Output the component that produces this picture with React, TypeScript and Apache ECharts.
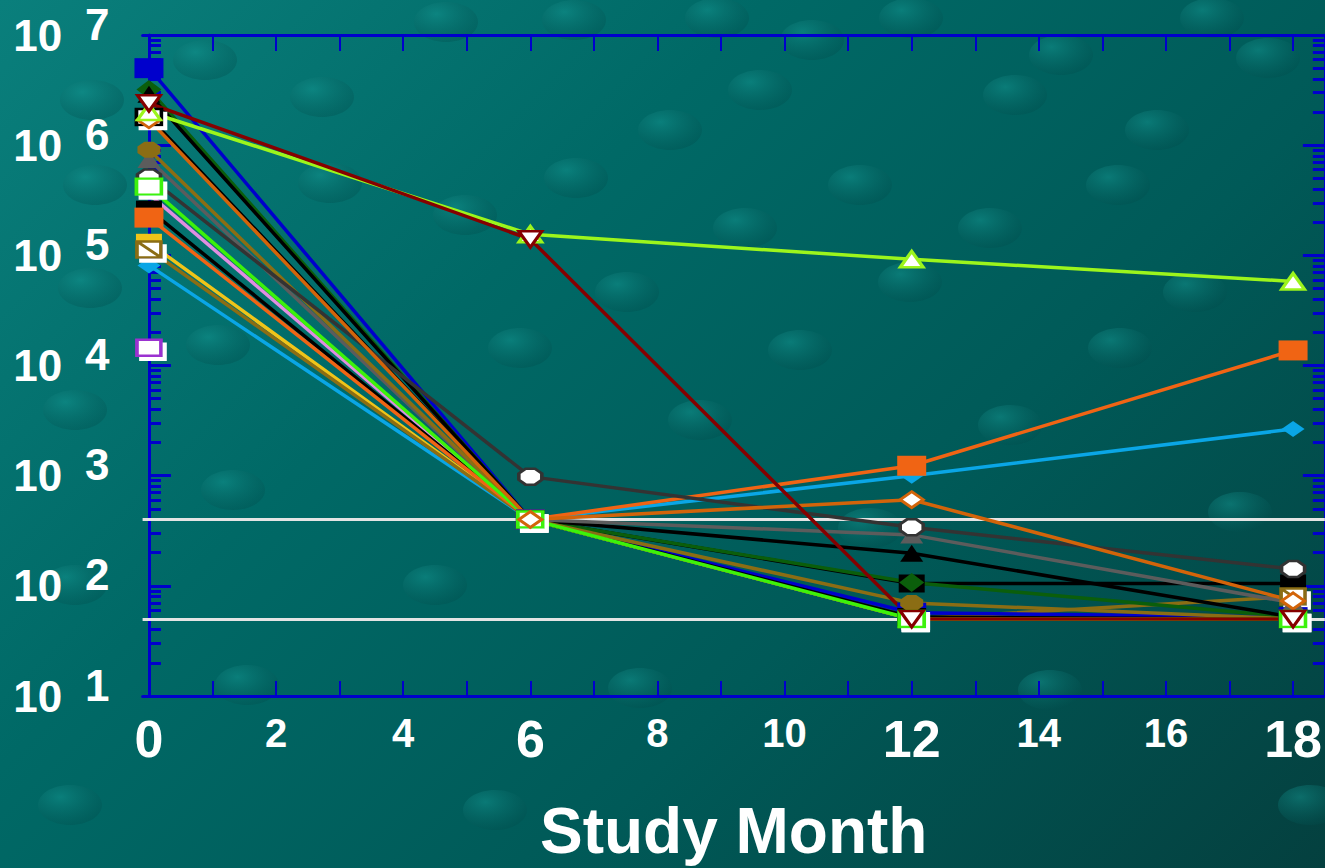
import React, { useEffect, useRef } from 'react';
import * as echarts from 'echarts';

// Study months at which viral load was measured
const months = [0, 6, 12, 18];

// Axis ticks and labels
const monthTicks = [0, 1, 2, 3, 4, 5, 6, 7, 8, 9, 10, 11, 12, 13, 14, 15, 16, 17, 18];
const monthLabels = [0, 2, 4, 6, 8, 10, 12, 14, 16, 18];
const majorMonths = [0, 6, 12, 18];
const decades = [10, 100, 1000, 10000, 100000, 1000000, 10000000];
const minorSteps = [2, 3, 4, 5, 6, 7, 8, 9];

// Detection limits (copies/mL)
const thresholds = [400, 50];

// Viral load per patient at months 0, 6, 12, 18
const pinkLine = [360000, 400, null, null];
const blackSquare = [260000, 400, 105, 105];
const goldSquare = [130000, 400, 50, 50];
const purpleSquare = [14500, null, null, null];
const cyanDiamond = [81000, 400, 1000, 2650];
const oliveCrossSquare = [113000, 400, 50, 80];
const orangeSquare = [220000, 400, 1230, 13700];
const blueSquare = [5000000, 400, 57, 52];
const darkGreenDiamond = [3200000, 400, 107, 52];
const blackTriangle = [2900000, 400, 198, 52];
const blackOpenSquare = [1800000, 400, 52, 50];
const grayTriangle = [740000, 400, 290, 70];
const oliveOctagon = [910000, 400, 70, 50];
const darkGrayOctagon = [510000, 980, 340, 142];
const greenSquare = [420000, 400, 50, 50];
const orangeDiamond = [1700000, 400, 605, 73];
const limeTriangle = [2000000, 155000, 92000, 58000];
const darkRedTriangle = [2400000, 140000, 50, 50];

const OCTAGON = 'path://M3,0L7,0L10,3L10,7L7,10L3,10L0,7L0,3Z';
const CROSS_BOX = 'path://M0,0L10,0L10,10L0,10Z M0,0L10,10';

type Spec = {
  name: string;
  values: (number | null)[];
  color: string;
  symbol: string;
  size: number[];
  open?: boolean;
  boxed?: boolean;
  rotate?: number;
};

const specs: Spec[] = [
  { name: 'P1', values: pinkLine, color: '#e08ee0', symbol: 'none', size: [0, 0] },
  { name: 'P2', values: blackSquare, color: '#000000', symbol: 'rect', size: [26, 18] },
  { name: 'P3', values: goldSquare, color: '#f0c419', symbol: 'rect', size: [26, 18] },
  { name: 'P4', values: purpleSquare, color: '#9b30d0', symbol: 'rect', size: [24, 16], open: true, boxed: true },
  { name: 'P5', values: cyanDiamond, color: '#0aa6e6', symbol: 'diamond', size: [23, 16] },
  { name: 'P6', values: oliveCrossSquare, color: '#8b6d14', symbol: CROSS_BOX, size: [24, 16], open: true, boxed: true },
  { name: 'P7', values: orangeSquare, color: '#f06414', symbol: 'rect', size: [29, 20] },
  { name: 'P8', values: blueSquare, color: '#0000cc', symbol: 'rect', size: [29, 20] },
  { name: 'P9', values: darkGreenDiamond, color: '#0b5e0b', symbol: 'diamond', size: [25, 19] },
  { name: 'P10', values: blackTriangle, color: '#000000', symbol: 'triangle', size: [23, 17] },
  { name: 'P11', values: blackOpenSquare, color: '#000000', symbol: 'rect', size: [25, 16], open: true, boxed: true },
  { name: 'P12', values: grayTriangle, color: '#5c5c5c', symbol: 'triangle', size: [23, 17] },
  { name: 'P13', values: oliveOctagon, color: '#8b6d14', symbol: OCTAGON, size: [23, 16] },
  { name: 'P14', values: darkGrayOctagon, color: '#333333', symbol: OCTAGON, size: [23, 16], open: true },
  { name: 'P15', values: greenSquare, color: '#3cf20a', symbol: 'rect', size: [25, 16], open: true, boxed: true },
  { name: 'P16', values: orangeDiamond, color: '#d2640a', symbol: 'diamond', size: [23, 16], open: true },
  { name: 'P17', values: limeTriangle, color: '#9cf51c', symbol: 'triangle', size: [23, 16], open: true },
  { name: 'P18', values: darkRedTriangle, color: '#850000', symbol: 'triangle', size: [23, 16], open: true, rotate: 180 },
];

// Decorative background bubbles
const bubbles = [
  [205, 60], [322, 97], [446, 22], [574, 20], [717, 18], [812, 40], [911, 18], [1061, 55],
  [1157, 130], [1212, 18], [1268, 58], [1015, 95], [760, 90], [670, 130], [92, 100], [95, 185],
  [330, 183], [576, 178], [465, 215], [860, 185], [745, 228], [990, 228], [1118, 185], [1195, 292],
  [910, 282], [627, 292], [520, 348], [800, 350], [1120, 348], [90, 288], [218, 345], [75, 410],
  [1010, 425], [700, 420], [233, 490], [870, 528], [1240, 512], [435, 585], [75, 585], [247, 685],
  [640, 688], [1050, 690], [70, 805], [495, 810], [1310, 805],
];

const FONT = '"Liberation Sans", Arial, sans-serif';
const AXIS_BLUE = '#0000cc';

export default function App() {
  const ref = useRef<HTMLDivElement>(null);

  useEffect(() => {
    if (!ref.current) return;
    const chart = echarts.init(ref.current, undefined, { renderer: 'svg' });

    const minorValues = decades.slice(0, -1).flatMap((d) => minorSteps.map((k) => k * d));

    const logAxis = (position: 'left' | 'right', ticks: number[], len: number, labels: boolean, line: boolean) => ({
      type: 'log',
      logBase: 10,
      min: 10,
      max: 10000000,
      position,
      axisLine: { show: line, lineStyle: { color: AXIS_BLUE, width: 3 } },
      axisTick: { show: true, inside: true, length: len, customValues: ticks, lineStyle: { color: AXIS_BLUE, width: 3 } },
      axisLabel: labels
        ? {
            show: true,
            customValues: decades,
            margin: 33,
            formatter: (v: number) => `{b|10}{e|${Math.round(Math.log10(v))}}`,
            rich: {
              b: { fontSize: 44, fontWeight: 'bold', color: '#ffffff', fontFamily: FONT },
              e: { fontSize: 44, fontWeight: 'bold', color: '#ffffff', fontFamily: FONT, padding: [0, 0, 22, 23] },
            },
          }
        : { show: false },
      splitLine: { show: false },
    });

    const series: any[] = specs.map((s, idx) => ({
      type: 'line',
      name: s.name,
      data: months.map((m, i) => [m, s.values[i]]).filter((p) => p[1] != null),
      xAxisIndex: 0,
      yAxisIndex: 0,
      symbol: s.symbol,
      symbolSize: s.size,
      symbolRotate: s.rotate || 0,
      showSymbol: s.symbol !== 'none',
      lineStyle: { color: s.color, width: 3.5 },
      itemStyle: s.open
        ? {
            color: '#ffffff',
            borderColor: s.color,
            borderWidth: 3,
            ...(s.boxed ? { shadowColor: '#ffffff', shadowBlur: 0, shadowOffsetX: 4, shadowOffsetY: 4 } : {}),
          }
        : { color: s.color, borderWidth: 0 },
      silent: true,
      emphasis: { disabled: true },
      z: 3,
      ...(idx === 0
        ? {
            markLine: {
              silent: true,
              symbol: 'none',
              z: 2,
              label: { show: false },
              lineStyle: { color: '#e4e4e4', width: 3, type: 'solid' },
              data: thresholds.map((v) => ({ yAxis: v })),
            },
          }
        : {}),
    }));

    chart.setOption({
      animation: false,
      backgroundColor: 'transparent',
      textStyle: { fontFamily: FONT },
      graphic: bubbles.map(([x, y]) => ({
        type: 'ellipse',
        silent: true,
        z: -10,
        shape: { cx: x, cy: y, rx: 32, ry: 20 },
        style: {
          fill: new echarts.graphic.RadialGradient(0.35, 0.3, 0.8, [
            { offset: 0, color: 'rgba(20,150,145,0.5)' },
            { offset: 1, color: 'rgba(0,70,70,0.3)' },
          ]),
        },
      })),
      grid: { left: 142.6, right: -8, top: 35, bottom: 167, containLabel: false },
      xAxis: [
        {
          type: 'value',
          min: -0.1,
          max: 18.5,
          position: 'bottom',
          axisLine: { show: true, onZero: false, lineStyle: { color: AXIS_BLUE, width: 3 } },
          axisTick: { show: true, inside: true, length: 15, customValues: monthTicks, lineStyle: { color: AXIS_BLUE, width: 2 } },
          axisLabel: {
            show: true,
            customValues: monthLabels,
            margin: 17,
            verticalAlign: 'top',
            formatter: (v: number) => (majorMonths.includes(v) ? `{big|${v}}` : `{small|${v}}`),
            rich: {
              big: { fontSize: 52, fontWeight: 'bold', color: '#ffffff', fontFamily: FONT, verticalAlign: 'top' },
              small: { fontSize: 40, fontWeight: 'bold', color: '#ffffff', fontFamily: FONT, verticalAlign: 'top' },
            },
          },
          splitLine: { show: false },
          name: 'Study Month',
          nameLocation: 'middle',
          nameGap: 103,
          nameTextStyle: { fontSize: 64, fontWeight: 'bold', color: '#ffffff', fontFamily: FONT },
        },
        {
          type: 'value',
          min: -0.1,
          max: 18.5,
          position: 'top',
          axisLine: { show: true, onZero: false, lineStyle: { color: AXIS_BLUE, width: 3 } },
          axisTick: { show: true, inside: true, length: 16, customValues: monthTicks, lineStyle: { color: AXIS_BLUE, width: 2 } },
          axisLabel: { show: false },
          splitLine: { show: false },
        },
      ],
      yAxis: [
        logAxis('left', decades, 22, true, true),
        logAxis('left', minorValues, 12, false, false),
        logAxis('right', decades, 22, false, true),
        logAxis('right', minorValues, 12, false, false),
      ],
      series,
    });

    return () => chart.dispose();
  }, []);

  return (
    <div
      ref={ref}
      style={{
        position: 'fixed',
        left: 0,
        top: 0,
        width: 1325,
        height: 868,
        background: 'linear-gradient(135deg, #0a7f7c 0%, #006966 35%, #005a58 65%, #04403f 100%)',
      }}
    />
  );
}
